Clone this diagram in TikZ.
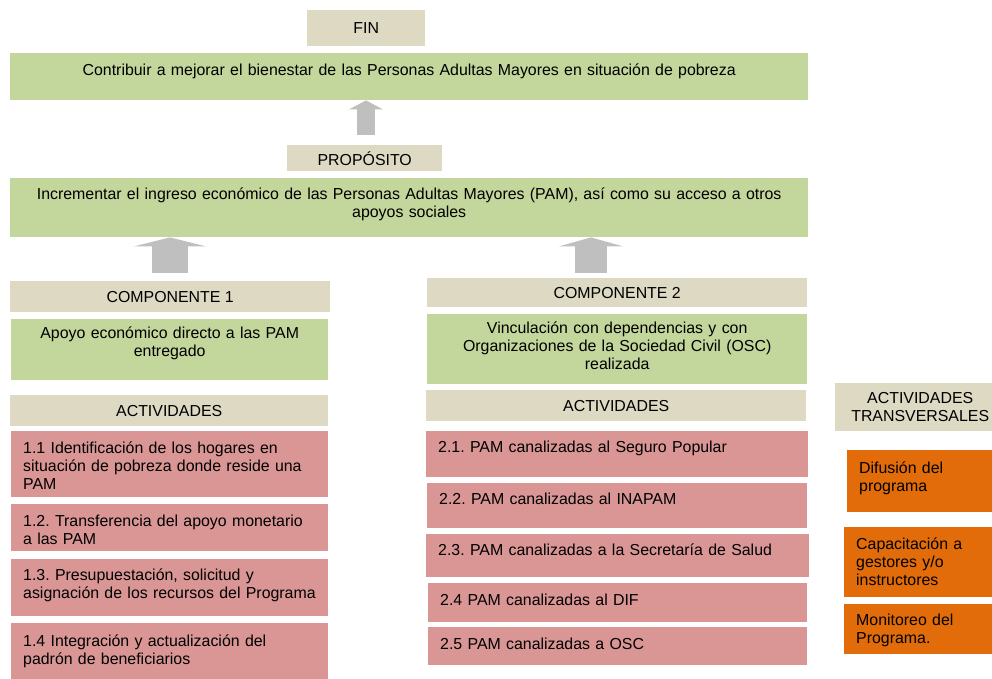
\documentclass[tikz,border=0pt]{standalone}
\usepackage{fontspec}
\setmainfont{Liberation Sans}
\usetikzlibrary{arrows.meta}
\definecolor{cbeige}{RGB}{221,217,195}
\definecolor{cgreen}{RGB}{195,214,155}
\definecolor{cpink}{RGB}{217,150,148}
\definecolor{corange}{RGB}{227,108,10}
\definecolor{cgray}{RGB}{191,191,191}
\frenchspacing

\begin{document}
\begin{tikzpicture}[x=1pt,y=-1pt,inner sep=0pt,
  every node/.style={anchor=north west,font=\fontsize{15.9}{18}\selectfont},
  title node/.style={fill=cbeige,align=center},
  goal node/.style={fill=cgreen,align=center,inner xsep=10pt},
  act node/.style={fill=cpink,align=left,execute at begin node={\leftskip=12pt}},
  trans node/.style={fill=corange,align=left,execute at begin node={\leftskip=12pt}},
  up arrow/.style 2 args={draw=cgray,line width=#1pt,-{Triangle[width=#2pt,length=9pt,line width=0pt]}}]
  \useasboundingbox (0,0) rectangle (992,679);

  % fin y proposito
  \node[title node,minimum width=118pt,minimum height=36pt] (fin) at (307,10) {FIN};
  \node[goal node,text width=778pt,text height=22pt,text depth=25pt] (fg) at (10,53)
    {Contribuir a mejorar el bienestar de las Personas Adultas Mayores en situación de pobreza};
  \node[title node,minimum width=155pt,minimum height=26pt] (pro) at (287,145) {PROPÓSITO};
  \node[goal node,text width=778pt,text height=21pt,text depth=38pt] (pg) at (10,178)
    {Incrementar el ingreso económico de las Personas Adultas Mayores (PAM), así como su acceso a otros\\apoyos sociales};

  % componentes
  \node[title node,minimum width=320pt,minimum height=31pt] (c1) at (10,281) {COMPONENTE 1};
  \node[goal node,text width=297pt,text height=19pt,text depth=42pt] (c1g) at (11,319)
    {Apoyo económico directo a las PAM\\entregado};
  \node[title node,minimum width=380pt,minimum height=29pt] (c2) at (427,278) {COMPONENTE 2};
  \node[goal node,text width=360pt,text height=19pt,text depth=51pt] (c2g) at (427,314)
    {Vinculación con dependencias y con\\Organizaciones de la Sociedad Civil (OSC)\\realizada};

  % actividades componente 1
  \node[title node,minimum width=318pt,minimum height=31pt] (act1) at (10,395) {ACTIVIDADES};
  \node[act node,text width=317pt,text height=22pt,text depth=44pt] (a11) at (11,431)
    {1.1 Identificación de los hogares en\\situación de pobreza donde reside una\\PAM};
  \node[act node,text width=317pt,text height=22pt,text depth=25pt] (a12) at (11,504)
    {1.2. Transferencia del apoyo monetario\\a las PAM};
  \node[act node,text width=317pt,text height=21pt,text depth=36pt] (a13) at (11,559)
    {1.3. Presupuestación, solicitud y\\asignación de los recursos del Programa};
  \node[act node,text width=317pt,text height=23pt,text depth=44pt] (a14) at (11,623)
    {1.4 Integración y actualización del\\padrón de beneficiarios};

  % actividades componente 2
  \node[title node,minimum width=380pt,minimum height=31pt] (act2) at (426,390) {ACTIVIDADES};
  \node[act node,text width=382pt,text height=21pt,text depth=25pt] (a21) at (426,431)
    {2.1. PAM canalizadas al Seguro Popular};
  \node[act node,text width=380pt,text height=21pt,text depth=24pt] (a22) at (427,483)
    {2.2. PAM canalizadas al INAPAM};
  \node[act node,text width=383pt,text height=21pt,text depth=22pt] (a23) at (426,534)
    {2.3. PAM canalizadas a la Secretaría de Salud};
  \node[act node,text width=379pt,text height=22pt,text depth=17pt] (a24) at (428,583)
    {2.4 PAM canalizadas al DIF};
  \node[act node,text width=379pt,text height=22pt,text depth=16pt] (a25) at (428,627)
    {2.5 PAM canalizadas a OSC};

  % actividades transversales
  \node[title node,text width=170pt,minimum height=48pt] (tr) at (835,383)
    {ACTIVIDADES\\TRANSVERSALES};
  \node[trans node,text width=163pt,text height=23pt,text depth=39pt] (t1) at (847,450)
    {Difusión del\\programa};
  \node[trans node,text width=166pt,text height=22pt,text depth=48pt] (t2) at (844,527)
    {Capacitación a\\gestores y/o\\instructores};
  \node[trans node,text width=166pt,text height=21pt,text depth=29pt] (t3) at (844,604)
    {Monitoreo del\\Programa.};

  % flechas
  \coordinate (p1) at (366,135);
  \coordinate (p2) at (170,273);
  \coordinate (p3) at (591,273);
  \draw[up arrow={18}{34}] (p1) -- (p1 |- fg.south);
  \draw[up arrow={36}{72}] (p2) -- (p2 |- pg.south);
  \draw[up arrow={32}{64}] (p3) -- (p3 |- pg.south);
\end{tikzpicture}
\end{document}
